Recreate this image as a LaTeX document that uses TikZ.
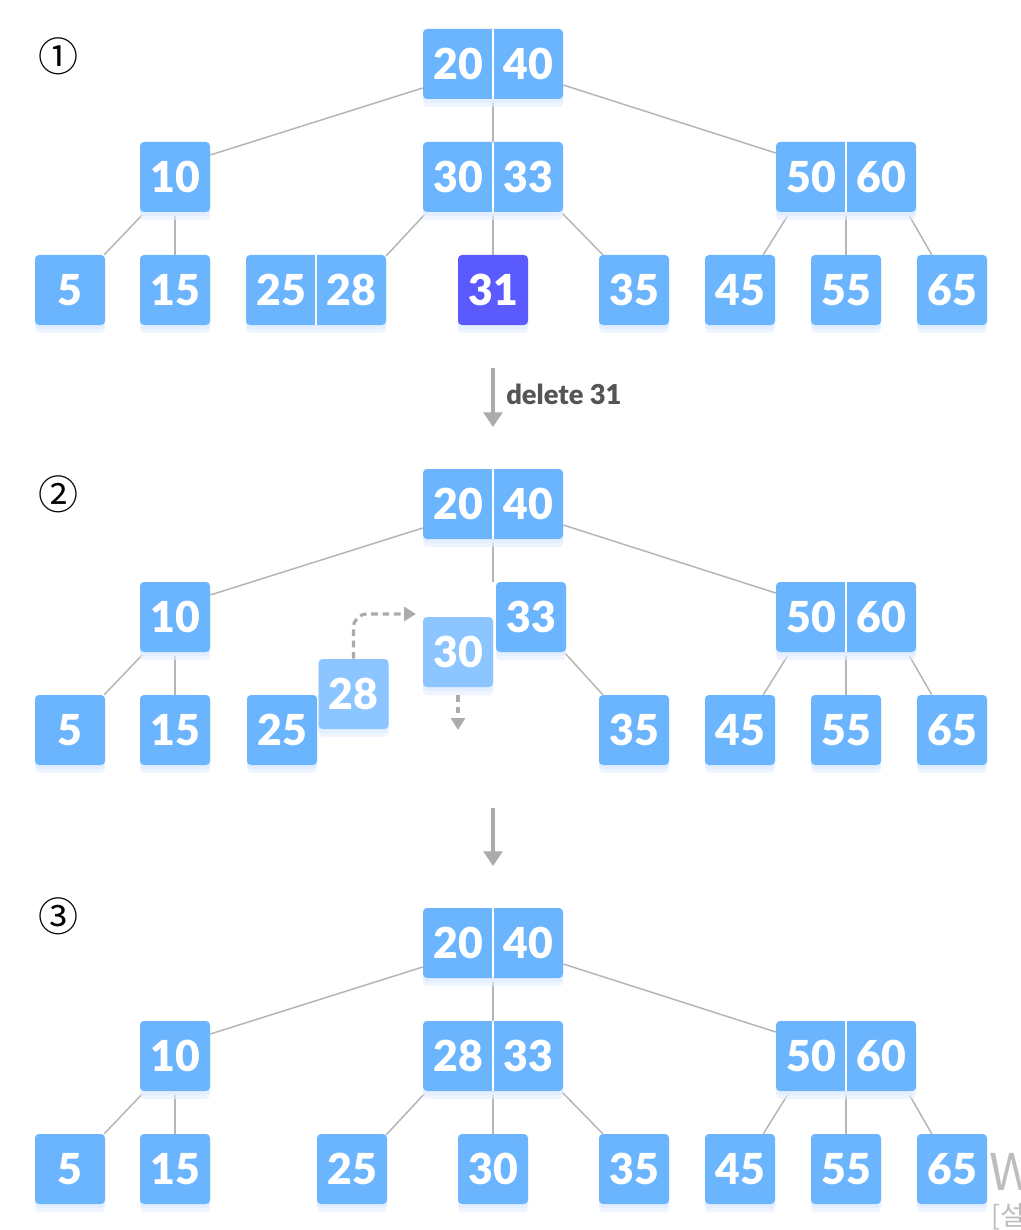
\documentclass[tikz,border=0pt]{standalone}
\usepackage{fontspec}
\setmainfont{Lato}
\IfFontExistsTF{Lato Black}
  {\newfontfamily\keyfam{Lato Black}}
  {\IfFontExistsTF{Lato Heavy}{\newfontfamily\keyfam{Lato Heavy}}{\newfontfamily\keyfam{Lato}[BoldFont={*},BoldFeatures={FakeBold=2}]}}
\newfontfamily\cjkkr{Noto Sans CJK KR}
\usetikzlibrary{arrows.meta,backgrounds,calc,shadows}
\definecolor{boxblue}{HTML}{6BB5FF}
\definecolor{boxpurple}{HTML}{5A5AFF}
\definecolor{boxlight}{HTML}{8CC5FF}
\definecolor{shadowc}{HTML}{E3EFFF}
\definecolor{edgegrey}{HTML}{B5B5B5}
\definecolor{arrowgrey}{HTML}{ABABAB}
\definecolor{labelgrey}{HTML}{555555}
\definecolor{wmgrey}{HTML}{BDBDBD}
\newcommand\keyfont{\keyfam\fontsize{32}{32}\selectfont}
\tikzset{
  box/.style={rectangle, rounded corners=3pt, fill=boxblue, minimum width=52.5pt,
    minimum height=52.5pt, inner sep=0pt, text=white, font=\keyfont,
    general shadow={shadow yshift=-6pt, fill=shadowc, opacity=0.6},
    general shadow={shadow yshift=-3pt, fill=shadowc}},
  wbox/.style={box, minimum width=105pt},
  keytext/.style={text=white, font=\keyfont, inner sep=0pt},
  edge/.style={draw=edgegrey, line width=1.1pt},
  divider/.style={draw=white, line width=1.1pt},
  bigarrow/.style={draw=arrowgrey, line width=2.6pt, -{Triangle[width=14pt,length=11pt]}},
  dasharrow/.style={draw=arrowgrey, line width=2.4pt, dash pattern=on 5pt off 3.5pt,
    -{Triangle[width=10.5pt,length=9pt]}},
  circnum/.style={font=\cjkkr\fontsize{30}{30}\selectfont, inner sep=0pt},
}
\newcommand\twokey[5]{%
  \node[wbox] (#1) at (#2,#3) {};
  \node[keytext] (#1a) at ($(#1.center)+(-35,0)$) {#4};
  \node[keytext] (#1b) at ($(#1.center)+(35,0)$) {#5};
  \draw[divider] (#1.north) -- (#1.south);}
\begin{document}
\begin{tikzpicture}[x=0.75pt,y=-0.75pt]
\useasboundingbox (0,0) rectangle (1020,1230);
\begin{pgfonlayer}{background}
  \fill[white] (0,0) rectangle (1020,1230);
\end{pgfonlayer}
\clip (0,0) rectangle (1020,1230);

% ---------- step numbers
\node[circnum] (s1) at (58,56) {①};
\node[circnum] (s2) at (58,494) {②};
\node[circnum] (s3) at (58,916) {③};

% ---------- diagram 1
\twokey{r1}{493}{64}{20}{40}
\node[box] (a1) at (175,177) {10};
\twokey{b1}{493}{177}{30}{33}
\twokey{c1}{846}{177}{50}{60}
\node[box] (l5a) at (70,290) {5};
\node[box] (l15a) at (175,290) {15};
\twokey{l2528}{316}{290}{25}{28}
\node[box, fill=boxpurple] (l31) at (493,290) {31};
\node[box] (l35a) at (634,290) {35};
\node[box] (l45a) at (740,290) {45};
\node[box] (l55a) at (846,290) {55};
\node[box] (l65a) at (952,290) {65};

% ---------- diagram 2
\twokey{r2}{493}{504}{20}{40}
\node[box] (a2) at (175,617) {10};
\node[box] (n33) at (531,617) {33};
\twokey{c2}{846}{617}{50}{60}
\node[box] (l5b) at (70,730) {5};
\node[box] (l15b) at (175,730) {15};
\node[box] (l25b) at (282,730) {25};
\node[box, fill=boxlight] (n28) at (353.5,694) {28};
\node[box, fill=boxlight] (n30) at (458,652) {30};
\node[box] (l35b) at (634,730) {35};
\node[box] (l45b) at (740,730) {45};
\node[box] (l55b) at (846,730) {55};
\node[box] (l65b) at (952,730) {65};

% ---------- diagram 3
\twokey{r3}{493}{943}{20}{40}
\node[box] (a3) at (175,1056) {10};
\twokey{b3}{493}{1056}{28}{33}
\twokey{c3}{846}{1056}{50}{60}
\node[box] (l5c) at (70,1169) {5};
\node[box] (l15c) at (175,1169) {15};
\node[box] (l25c) at (352,1169) {25};
\node[box] (l30c) at (493,1169) {30};
\node[box] (l35c) at (634,1169) {35};
\node[box] (l45c) at (740,1169) {45};
\node[box] (l55c) at (846,1169) {55};
\node[box] (l65c) at (952,1169) {65};

% ---------- edges (behind boxes)
\begin{pgfonlayer}{background}
  % diagram 1
  \draw[edge] ($(r1.west)+(0,24)$) -- ($(a1.east)+(0,-22)$);
  \draw[edge] (r1.south) -- (b1.north);
  \draw[edge] ($(r1.east)+(0,21)$) -- ($(c1.west)+(0,-24)$);
  \draw[edge] ($(a1.south west)+(5,0)$) -- ($(l5a.north east)+(-1,0)$);
  \draw[edge] (a1.south) -- (l15a.north);
  \draw[edge] ($(b1.south west)+(4,0)$) -- ($(l2528.north east)+(0,1)$);
  \draw[edge] (b1.south) -- (l31.north);
  \draw[edge] ($(b1.south east)+(-2,0)$) -- ($(l35a.north west)+(4,0)$);
  \draw[edge] ($(c1.south west)+(14,0)$) -- ($(l45a.north east)+(-12,0)$);
  \draw[edge] (c1.south) -- (l55a.north);
  \draw[edge] ($(c1.south east)+(-9,0)$) -- ($(l65a.north west)+(15,0)$);
  % diagram 2
  \draw[edge] ($(r2.west)+(0,24)$) -- ($(a2.east)+(0,-22)$);
  \draw[edge] (r2.south) -- (r2.south |- n33.north);
  \draw[edge] ($(r2.east)+(0,21)$) -- ($(c2.west)+(0,-24)$);
  \draw[edge] ($(a2.south west)+(5,0)$) -- ($(l5b.north east)+(-1,0)$);
  \draw[edge] (a2.south) -- (l15b.north);
  \draw[edge] ($(n33.south east)+(-2,0)$) -- ($(l35b.north west)+(4,0)$);
  \draw[edge] ($(c2.south west)+(14,0)$) -- ($(l45b.north east)+(-12,0)$);
  \draw[edge] (c2.south) -- (l55b.north);
  \draw[edge] ($(c2.south east)+(-9,0)$) -- ($(l65b.north west)+(15,0)$);
  % diagram 3
  \draw[edge] ($(r3.west)+(0,24)$) -- ($(a3.east)+(0,-22)$);
  \draw[edge] (r3.south) -- (b3.north);
  \draw[edge] ($(r3.east)+(0,21)$) -- ($(c3.west)+(0,-24)$);
  \draw[edge] ($(a3.south west)+(5,0)$) -- ($(l5c.north east)+(-1,0)$);
  \draw[edge] (a3.south) -- (l15c.north);
  \draw[edge] ($(b3.south west)+(4,0)$) -- ($(l25c.north east)+(-1,1)$);
  \draw[edge] (b3.south) -- (l30c.north);
  \draw[edge] ($(b3.south east)+(-2,0)$) -- ($(l35c.north west)+(4,0)$);
  \draw[edge] ($(c3.south west)+(14,0)$) -- ($(l45c.north east)+(-12,0)$);
  \draw[edge] (c3.south) -- (l55c.north);
  \draw[edge] ($(c3.south east)+(-9,0)$) -- ($(l65c.north west)+(15,0)$);
\end{pgfonlayer}

% ---------- step arrows
\coordinate (ar1s) at (493,368);
\coordinate (ar1e) at (493,427);
\draw[bigarrow] (ar1s) -- (ar1e);
\node[anchor=west, text=labelgrey, font=\keyfam\fontsize{20.5}{20.5}\selectfont, inner sep=0pt]
  (dlabel) at (506,394) {delete 31};
\coordinate (ar2s) at (493,808);
\coordinate (ar2e) at (493,866);
\draw[bigarrow] (ar2s) -- (ar2e);

% ---------- dashed move arrows
\coordinate (dright) at (416,614);
\draw[dasharrow, rounded corners=10pt] (n28.north) |- (dright);
\coordinate (ddown) at (458,730);
\draw[dasharrow] ($(n30.south)+(0,8)$) -- (ddown);

% ---------- cut-off watermark
\node[anchor=base west, text=wmgrey, font=\cjkkr\fontsize{38}{38}\selectfont, inner sep=0pt]
  (wm1) at (989,1190) {W};
\node[anchor=north west, text=wmgrey, font=\cjkkr\fontsize{20}{20}\selectfont, inner sep=0pt]
  (wm2) at (991,1203) {[설};
\end{tikzpicture}
\end{document}
